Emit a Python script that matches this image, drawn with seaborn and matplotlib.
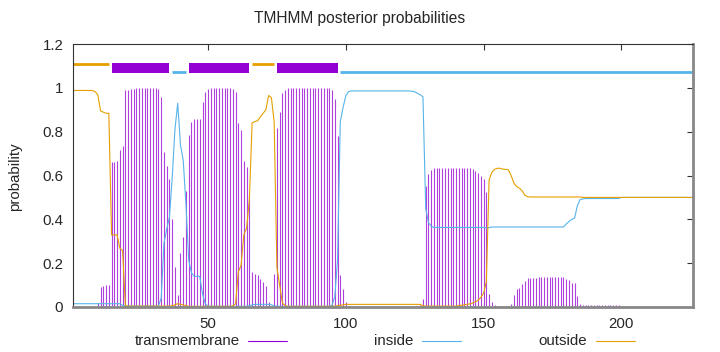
import numpy as np
import pandas as pd
import seaborn as sns
import matplotlib.pyplot as plt
from matplotlib.lines import Line2D

# residue positions 1..226
residues = np.arange(1, 227)

# posterior probability of transmembrane state (drawn as impulses)
tm_prob = [
    0, 0, 0, 0, 0, 0, 0, 0, 0, 0.017,
    0.093, 0.096, 0.10, 0.10, 0.66, 0.66, 0.665, 0.717, 0.735, 0.988,
    0.99, 0.994, 0.995, 0.998, 1.0, 1.0, 1.0, 1.0, 1.0, 1.0,
    0.997, 0.994, 0.96, 0.709, 0.644, 0.583, 0.40, 0.181, 0.055, 0.248,
    0.321, 0.527, 0.784, 0.842, 0.857, 0.857, 0.857, 0.936, 0.982, 0.994,
    1.0, 1.0, 1.0, 1.0, 1.0, 1.0, 1.0, 1.0, 0.995, 0.982,
    0.839, 0.808, 0.667, 0.638, 0.51, 0.158, 0.151, 0.145, 0.128, 0.113,
    0.096, 0.023, 0.005, 0.15, 0.816, 0.89, 0.976, 0.99, 1.0, 1.0,
    1.0, 1.0, 1.0, 1.0, 1.0, 1.0, 1.0, 1.0, 1.0, 1.0,
    1.0, 1.0, 1.0, 1.0, 0.99, 0.95, 0.78, 0.146, 0.08, 0.024,
    0.005, 0.002, 0.002, 0.002, 0.002, 0.002, 0.002, 0.002, 0.002, 0.002,
    0.002, 0.002, 0.002, 0.002, 0.002, 0.002, 0.002, 0.002, 0.002, 0.002,
    0.002, 0.002, 0.002, 0.002, 0.002, 0.002, 0.01, 0.035, 0.553, 0.606,
    0.626, 0.633, 0.633, 0.633, 0.633, 0.633, 0.633, 0.633, 0.633, 0.633,
    0.633, 0.633, 0.633, 0.633, 0.633, 0.628, 0.622, 0.613, 0.600, 0.583,
    0.525, 0.058, 0.023, 0.008, 0.005, 0.005, 0.005, 0.005, 0.005, 0.014,
    0.055, 0.081, 0.088, 0.103, 0.119, 0.131, 0.134, 0.134, 0.134, 0.136,
    0.136, 0.136, 0.136, 0.136, 0.136, 0.136, 0.136, 0.136, 0.136, 0.13,
    0.123, 0.111, 0.108, 0.05, 0.012, 0.007, 0.007, 0.007, 0.007, 0.007,
    0.007, 0.007, 0.007, 0.007, 0.007, 0.007, 0.007, 0.007, 0.007, 0,
    0, 0, 0, 0, 0, 0, 0, 0, 0, 0,
    0, 0, 0, 0, 0, 0, 0, 0, 0, 0,
    0, 0, 0, 0, 0, 0,
]

# posterior probability of inside state
inside_prob = [
    0.015, 0.015, 0.015, 0.015, 0.015, 0.015, 0.015, 0.015, 0.015, 0.015,
    0.015, 0.015, 0.015, 0.015, 0.015, 0.015, 0.015, 0.015, 0.008, 0.004,
    0.004, 0.004, 0.004, 0.004, 0.004, 0.004, 0.004, 0.004, 0.004, 0.004,
    0.004, 0.004, 0.04, 0.29, 0.355, 0.41, 0.59, 0.81, 0.93, 0.74,
    0.67, 0.467, 0.213, 0.155, 0.14, 0.14, 0.14, 0.06, 0.015, 0.004,
    0.003, 0.003, 0.003, 0.003, 0.003, 0.003, 0.003, 0.003, 0.003, 0.003,
    0.003, 0.003, 0.003, 0.003, 0.006, 0.01, 0.012, 0.012, 0.012, 0.012,
    0.012, 0.012, 0.01, 0.005, 0.003, 0.003, 0.003, 0.003, 0.003, 0.003,
    0.003, 0.003, 0.003, 0.003, 0.003, 0.003, 0.003, 0.003, 0.003, 0.003,
    0.003, 0.003, 0.003, 0.003, 0.008, 0.046, 0.214, 0.846, 0.91, 0.964,
    0.983, 0.986, 0.986, 0.986, 0.986, 0.986, 0.986, 0.986, 0.986, 0.986,
    0.986, 0.986, 0.986, 0.986, 0.986, 0.986, 0.986, 0.986, 0.986, 0.986,
    0.986, 0.986, 0.986, 0.984, 0.982, 0.975, 0.968, 0.959, 0.45, 0.385,
    0.368, 0.363, 0.363, 0.363, 0.363, 0.363, 0.363, 0.363, 0.363, 0.363,
    0.363, 0.363, 0.363, 0.363, 0.363, 0.363, 0.363, 0.363, 0.363, 0.363,
    0.36, 0.362, 0.365, 0.365, 0.365, 0.365, 0.365, 0.365, 0.365, 0.365,
    0.365, 0.365, 0.365, 0.365, 0.365, 0.365, 0.365, 0.365, 0.365, 0.365,
    0.365, 0.365, 0.365, 0.365, 0.365, 0.365, 0.365, 0.365, 0.365, 0.379,
    0.39, 0.40, 0.405, 0.46, 0.49, 0.493, 0.495, 0.495, 0.495, 0.495,
    0.495, 0.495, 0.495, 0.495, 0.495, 0.495, 0.495, 0.495, 0.495, 0.5,
    0.5, 0.5, 0.5, 0.5, 0.5, 0.5, 0.5, 0.5, 0.5, 0.5,
    0.5, 0.5, 0.5, 0.5, 0.5, 0.5, 0.5, 0.5, 0.5, 0.5,
    0.5, 0.5, 0.5, 0.5, 0.5, 0.5,
]

# posterior probability of outside state
outside_prob = [
    0.988, 0.988, 0.988, 0.988, 0.988, 0.988, 0.988, 0.988, 0.983, 0.968,
    0.895, 0.889, 0.884, 0.884, 0.329, 0.329, 0.329, 0.268, 0.257, 0.006,
    0.004, 0.004, 0.004, 0.004, 0.004, 0.004, 0.004, 0.004, 0.004, 0.004,
    0.004, 0.004, 0.004, 0.004, 0.004, 0.004, 0.006, 0.01, 0.015, 0.012,
    0.01, 0.006, 0.003, 0.003, 0.003, 0.003, 0.003, 0.003, 0.003, 0.003,
    0.003, 0.003, 0.003, 0.003, 0.003, 0.003, 0.003, 0.003, 0.005, 0.015,
    0.16, 0.19, 0.33, 0.36, 0.49, 0.84, 0.846, 0.85, 0.868, 0.884,
    0.90, 0.965, 0.955, 0.845, 0.18, 0.10, 0.018, 0.006, 0.003, 0.003,
    0.003, 0.003, 0.003, 0.003, 0.003, 0.003, 0.003, 0.003, 0.003, 0.003,
    0.003, 0.003, 0.003, 0.003, 0.003, 0.004, 0.006, 0.008, 0.01, 0.012,
    0.012, 0.012, 0.012, 0.012, 0.012, 0.012, 0.012, 0.012, 0.012, 0.012,
    0.012, 0.012, 0.012, 0.012, 0.012, 0.012, 0.012, 0.012, 0.012, 0.012,
    0.012, 0.012, 0.012, 0.012, 0.012, 0.012, 0.012, 0.006, 0.004, 0.004,
    0.004, 0.004, 0.004, 0.004, 0.004, 0.004, 0.004, 0.004, 0.004, 0.004,
    0.006, 0.008, 0.01, 0.012, 0.014, 0.018, 0.024, 0.03, 0.044, 0.062,
    0.115, 0.58, 0.615, 0.628, 0.633, 0.633, 0.629, 0.628, 0.626, 0.60,
    0.565, 0.55, 0.542, 0.53, 0.51, 0.503, 0.502, 0.502, 0.502, 0.502,
    0.502, 0.502, 0.502, 0.502, 0.502, 0.502, 0.502, 0.502, 0.502, 0.502,
    0.502, 0.502, 0.502, 0.502, 0.502, 0.5, 0.5, 0.5, 0.5, 0.5,
    0.5, 0.5, 0.5, 0.5, 0.5, 0.5, 0.5, 0.5, 0.5, 0.5,
    0.5, 0.5, 0.5, 0.5, 0.5, 0.5, 0.5, 0.5, 0.5, 0.5,
    0.5, 0.5, 0.5, 0.5, 0.5, 0.5, 0.5, 0.5, 0.5, 0.5,
    0.5, 0.5, 0.5, 0.5, 0.5, 0.5,
]

# predicted topology segments drawn above the curves
seg_start = [1, 15, 37, 43, 66, 75, 98]
seg_end = [14, 36, 42, 65, 74, 97, 226]
seg_type = ['outside', 'TMhelix', 'inside', 'TMhelix', 'outside', 'TMhelix', 'inside']

C_TM = '#9400d3'
C_IN = '#56b4e9'
C_OUT = '#e69f00'


def tmhmm_plot():
    sns.set_theme(style='white')
    plt.rcParams['font.family'] = ['Liberation Sans', 'DejaVu Sans']
    plt.rcParams['font.size'] = 10.8

    df = pd.DataFrame({'residue': residues, 'tm': tm_prob,
                       'inside': inside_prob, 'outside': outside_prob})

    fig = plt.figure(figsize=(7.2, 3.52), dpi=100)
    ax = fig.add_axes([73 / 720, 1 - 307 / 352, 620 / 720, 263 / 352])

    # transmembrane as impulses, then inside/outside curves
    ax.vlines(df['residue'], 0, df['tm'], color=C_TM, lw=0.8, alpha=0.75)
    sns.lineplot(data=df, x='residue', y='inside', color=C_IN, lw=0.8, ax=ax)
    sns.lineplot(data=df, x='residue', y='outside', color=C_OUT, lw=0.8, ax=ax)

    # topology bars
    bar_style = {'outside': (1.11, C_OUT, 2.0),
                 'TMhelix': (1.09, C_TM, 7.2),
                 'inside': (1.07, C_IN, 2.0)}
    for s, e, t in zip(seg_start, seg_end, seg_type):
        y, c, w = bar_style[t]
        ax.hlines(y, s, e, color=c, lw=w, capstyle='butt')

    ax.set_xlim(1, 226)
    ax.set_ylim(0, 1.2)
    ax.set_xticks([50, 100, 150, 200])
    ax.set_yticks([0, 0.2, 0.4, 0.6, 0.8, 1.0, 1.2])
    ax.set_yticklabels(['0', '0.2', '0.4', '0.6', '0.8', '1', '1.2'])
    ax.set_xlabel('')
    ax.set_ylabel('')
    ax.tick_params(direction='in', length=4, width=0.8, color='#333333',
                   top=True, right=True, bottom=False, labelsize=10.8, pad=7)
    for tick in ax.yaxis.get_major_ticks():
        tick.tick2line.set_color('#888888')
    for side in ['left', 'top']:
        ax.spines[side].set_color('#333333')
        ax.spines[side].set_linewidth(0.8)
    for side in ['right', 'bottom']:
        ax.spines[side].set_color('#888888')
        ax.spines[side].set_linewidth(2.0)

    fig.text(0.5, 1 - 18 / 352, 'TMHMM posterior probabilities',
             ha='center', va='center', fontsize=11.2)
    fig.text(15 / 720, 1 - 177 / 352, 'probability', rotation=90,
             ha='center', va='center', fontsize=10.8)

    # legend row below the plot: label, then sample line
    ly = 1 - 341 / 352
    for label, c, tx, x0, x1 in [('transmembrane', C_TM, 240, 248, 287),
                                 ('inside', C_IN, 413, 422, 461),
                                 ('outside', C_OUT, 587, 596, 635)]:
        fig.text(tx / 720, ly, label, ha='right', va='center', fontsize=10.8)
        fig.add_artist(Line2D([x0 / 720, x1 / 720], [ly, ly], color=c, lw=0.8))

    fig.savefig('out.png', dpi=100)


def main():
    tmhmm_plot()


if __name__ == "__main__":
    main()
